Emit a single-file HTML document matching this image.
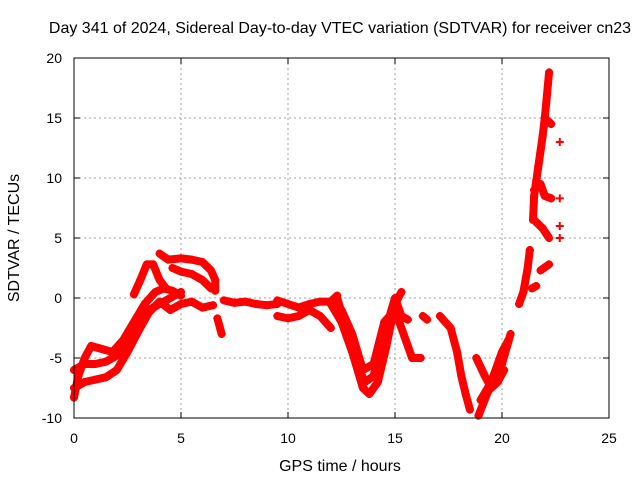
<!DOCTYPE html>
<html><head><meta charset="utf-8"><style>
body{margin:0;background:#fff}
svg{display:block;font-family:"Liberation Sans",sans-serif}
</style></head><body>
<svg id="chart" width="640" height="480" viewBox="0 0 640 480">
<text x="340" y="33" font-size="16" text-anchor="middle">Day 341 of 2024, Sidereal Day-to-day VTEC variation (SDTVAR) for receiver cn23</text>
<text x="340" y="471" font-size="16" text-anchor="middle">GPS time / hours</text>
<text transform="translate(19,238) rotate(-90)" font-size="16" text-anchor="middle">SDTVAR / TECUs</text>
<g id="grid"></g>
<g id="ticks"></g>
<g id="series"></g>
<rect x="74" y="58" width="535" height="360" fill="none" stroke="#000" stroke-width="1"/>
</svg>
<script>
const xTicks=[0,5,10,15,20,25];
const yTicks=[-10,-5,0,5,10,15,20];
const tracks=[
 [[0,-8.3],[0.2,-6.5],[0.5,-5],[0.8,-4],[1.2,-4.2],[1.8,-4.5],[2.3,-3.5],[2.8,-2],[3.3,-0.5],[3.8,0.5],[4.2,0.8],[4.6,0.6],[5,0.2]],
 [[0,-6],[0.5,-5.5],[1,-5.5],[1.5,-5.3],[2,-4.8],[2.5,-3.5],[3,-2],[3.5,-1],[4,-0.5],[4.5,0],[5,0.5]],
 [[0,-7.5],[0.5,-7],[1,-6.8],[1.5,-6.6],[2,-6],[2.5,-4.5],[3,-2.8],[3.5,-1.2],[4,-0.3],[4.5,-1],[5,-0.5],[5.5,-0.3],[6,-0.8],[6.5,-0.6]],
 [[2.8,0.3],[3.1,1.5],[3.4,2.8],[3.7,2.8],[4,1.5],[4.3,0.8]],
 [[4,3.7],[4.4,3.2],[5,3.3],[5.5,3.2],[6,3],[6.4,2.3],[6.6,1.5],[6.6,0.6]],
 [[4.6,2.5],[5,2.2],[5.5,2],[6,1.5],[6.4,0.8]],
 [[6.7,-1.7],[6.9,-3]],
 [[7,-0.2],[7.5,-0.4],[8,-0.3],[8.5,-0.5],[9,-0.6],[9.5,-0.5]],
 [[9.5,-0.2],[10,-0.5],[10.5,-0.8],[11,-0.5],[11.5,-0.3],[12,-0.3],[12.3,0.2]],
 [[9.5,-1.5],[10,-1.7],[10.5,-1.5],[11,-1],[11.5,-1.5],[12,-2.5]],
 [[12,-0.5],[12.5,-2],[13,-4.5],[13.5,-7.5],[13.8,-8],[14.2,-7],[14.6,-4],[15,-0.5],[15.3,0.5]],
 [[12.3,0],[12.8,-3],[13.2,-5.5],[13.6,-7],[14,-6.5],[14.5,-3],[15,0],[15.3,-1.5],[15.6,-1.8]],
 [[12.5,-1],[13,-3],[13.5,-6],[14,-5.5],[14.5,-2],[15,-1],[15.4,-3],[15.8,-5],[16.2,-5]],
 [[16.3,-1.5],[16.5,-1.8]],
 [[17.1,-1.5],[17.6,-2.5],[17.9,-4.5],[18.1,-6.5],[18.3,-8],[18.5,-9.3]],
 [[18.9,-9.8],[19.3,-8],[19.7,-6.5],[20,-5.5],[20.4,-3]],
 [[18.8,-5],[19.2,-6.5],[19.5,-7.5],[19.8,-7],[20.1,-6]],
 [[19,-8.5],[19.5,-7],[20,-4.5],[20.3,-3.5]],
 [[20.8,-0.5],[21,0.5],[21.2,2.5],[21.3,4]],
 [[21.4,0.8],[21.6,1]],
 [[21.8,2.3],[22.2,2.8]],
 [[21.45,6.5],[21.5,8.5],[21.7,11],[21.9,13.5],[22,15],[22.2,18.8]],
 [[21.5,9],[21.8,9.5],[22,8.5],[22.3,8.3]],
 [[21.5,6.5],[21.9,5.8],[22.2,5]],
 [[22,15],[22.3,14.5]],
 [[22.7,13]],[[22.7,8.3]],[[22.7,6]],[[22.7,5]]
];
const X0=74,X1=609,Y0=418,Y1=58;
function sx(h){return X0+(h-0)/(25-0)*(X1-X0);}
function sy(v){return Y0-(v+10)/30*(Y0-Y1);}
const NS="http://www.w3.org/2000/svg";
function mk(tag,attrs,parent){const e=document.createElementNS(NS,tag);for(const k in attrs)e.setAttribute(k,attrs[k]);parent.appendChild(e);return e;}
const grid=document.getElementById('grid'),ticks=document.getElementById('ticks'),ser=document.getElementById('series');
xTicks.forEach(t=>{const x=sx(t);
 if(t>0&&t<25){const g=mk('line',{x1:x,x2:x,y1:Y1,y2:Y0,stroke:'#a0a0a0','stroke-dasharray':'2,3'},grid);
 
 }
 const tk=mk('path',{d:`M${x},${Y0}v-6M${x},${Y1}v6`,stroke:'#000'},ticks);
 
 
 const l=mk('text',{x:x,y:443,'font-size':14,'text-anchor':'middle'},ticks);l.textContent=t;
 
 
});
yTicks.forEach(t=>{const y=sy(t);
 if(t>-10&&t<20){const g=mk('line',{x1:X0,x2:X1,y1:y,y2:y,stroke:'#a0a0a0','stroke-dasharray':'2,3'},grid);
 
 }
 const tk=mk('path',{d:`M${X0},${y}h6M${X1},${y}h-6`,stroke:'#000'},ticks);
 
 
 const l=mk('text',{x:62,y:y+5,'font-size':14,'text-anchor':'end'},ticks);l.textContent=t;
 
 
});
tracks.forEach(tr=>{
 const pts=tr.map(p=>sx(p[0])+','+sy(p[1])).join(' ');
 if(tr.length>1){const pl=mk('polyline',{points:pts,fill:'none',stroke:'#f00','stroke-width':8,'stroke-linejoin':'round','stroke-linecap':'round'},ser);
 
 }
 tr.forEach(p=>{const x=sx(p[0]),y=sy(p[1]);
  const m=mk('path',{d:`M${x-4},${y}h8M${x},${y-4}v8`,stroke:'#f00','stroke-width':2},ser);
  
  
 });
});
</script>
</body></html>
